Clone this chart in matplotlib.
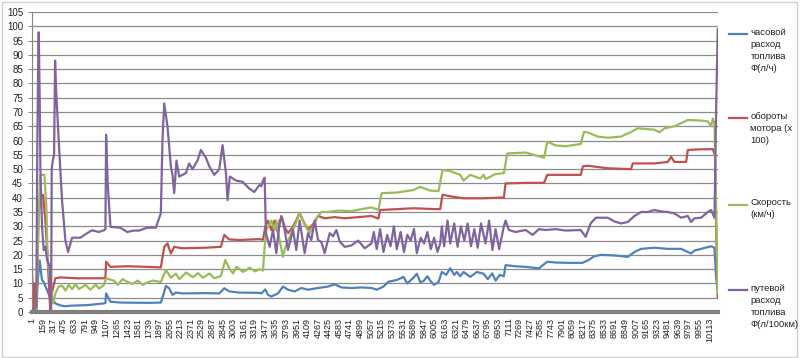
import matplotlib
matplotlib.use("Agg")
import matplotlib.pyplot as plt
from matplotlib.lines import Line2D
from matplotlib.patches import Rectangle

plt.rcParams["font.family"] = ["Liberation Sans", "DejaVu Sans"]

# sample index (row number) and value
n_rows = 10235

blue_x = [1, 65, 90, 116, 135, 150, 175, 200, 225, 265, 300, 349, 424, 499, 573, 823, 1072, 1096, 1106,
          1171, 1320, 1719, 1923, 1973, 1998, 2047, 2097, 2147, 2246, 2595, 2794, 2869, 2943, 3093, 3392,
          3422, 3481, 3521, 3571, 3671, 3745, 3820, 3919, 4019, 4119, 4268, 4417, 4517, 4617, 4766, 4915,
          5065, 5144, 5244, 5319, 5443, 5543, 5600, 5692, 5742, 5792, 5842, 5900, 5941, 6000, 6066, 6115,
          6180, 6240, 6300, 6339, 6389, 6439, 6539, 6638, 6738, 6800, 6867, 6917, 6980, 7041, 7066, 7216,
          7365, 7564, 7689, 7813, 8012, 8212, 8291, 8391, 8490, 8690, 8889, 8989, 9088, 9287, 9486, 9685,
          9785, 9834, 9884, 9984, 10133, 10183, 10207, 10232]
blue_y = [0.5, 1, 12, 18, 14, 11.2, 10.5, 9, 7.7, 5.3, 4.8, 3, 2.3, 2, 2.2, 2.4, 3, 3.2, 6.5,
          3.6, 3.3, 3.2, 3.3, 7, 9.1, 8.3, 6, 6.8, 6.5, 6.6, 6.5, 8.3, 7.2, 6.8, 6.7,
          6.5, 7.9, 6, 5.4, 6.5, 8.9, 7.8, 7.2, 8.4, 7.8, 8.4, 8.9, 9.7, 8.6, 8.4, 8.6,
          8.4, 7.8, 8.9, 10.6, 11.2, 12.3, 10, 12, 13.4, 10.5, 10.8, 12.5, 11, 9.5, 10.5, 14,
          13, 15.3, 13, 14, 12.5, 14, 12.3, 14, 13.4, 11.5, 13.5, 11, 13, 12.5, 16.4, 16,
          15.8, 15.3, 17.6, 17.3, 17.2, 17.2, 18, 19.5, 20, 19.8, 19.3, 21, 22.1, 22.5, 22.1, 22.1,
          21, 20.5, 21.5, 22.1, 23, 22.5, 12, 8]

red_x = [1, 16, 35, 50, 65, 90, 101, 135, 165, 200, 235, 265, 275, 300, 349, 424, 673, 1072, 1096, 1106,
         1171, 1420, 1719, 1923, 1973, 2022, 2072, 2122, 2246, 2595, 2819, 2869, 2943, 3093, 3392, 3447,
         3481, 3521, 3571, 3620, 3671, 3720, 3770, 3820, 3894, 3994, 4044, 4119, 4193, 4268, 4367, 4517,
         4666, 4866, 5065, 5169, 5194, 5443, 5692, 6041, 6091, 6125, 6240, 6439, 6738, 7041, 7066, 7365,
         7639, 7689, 7863, 8187, 8221, 8291, 8590, 8938, 8964, 9287, 9486, 9536, 9586, 9760, 9785, 9934,
         10158, 10190, 10207, 10232]
red_y = [14.7, 0.7, 10, 3, 0.5, 25, 34.6, 40.4, 41, 32, 18, 4.2, 0, 7, 11.8, 12.1, 11.8, 11.8, 12, 17.6,
         15.8, 16, 15.8, 15.6, 22.8, 24, 20.5, 22.8, 22.3, 22.5, 22.8, 27, 25.4, 25.2, 25.5, 25.3,
         29.8, 32, 28.7, 32, 27.6, 33.6, 29.8, 27.6, 29.8, 34.6, 32, 28.7, 30.7, 33.6, 32.8, 33.2,
         32.8, 33.2, 33.6, 32.7, 35.7, 36, 36.3, 36, 36, 41, 40.5, 39.8, 39.8, 40.1, 45, 45.2,
         45.2, 48, 48, 48, 51, 51.2, 50.3, 50, 52, 52, 52.5, 54.3, 52.5, 52.5, 56.7, 56.9,
         57, 55, 30, 5]

green_x = [1, 65, 76, 101, 125, 185, 215, 235, 275, 315, 349, 399, 449, 500, 550, 600, 650, 700, 800,
           870, 950, 1000, 1072, 1106, 1221, 1280, 1350, 1420, 1500, 1580, 1650, 1719, 1800,
           1923, 1998, 2072, 2147, 2200, 2300, 2400, 2480, 2550, 2650, 2720, 2819, 2884, 2943, 3000,
           3050, 3150, 3250, 3330, 3392, 3447, 3471, 3496, 3571, 3620,
           3646, 3695, 3745, 3770, 3870, 3919, 3994, 4068, 4143, 4193, 4268, 4318, 4417, 4567, 4766, 4965,
           5065, 5169, 5219, 5443, 5692, 5792, 5941, 6066, 6125, 6240, 6389, 6439, 6539, 6688, 6738, 6767,
           6917, 7041, 7091, 7365, 7639, 7689, 7813, 7963, 8187, 8236, 8291, 8440, 8590, 8789, 8938, 9038,
           9287, 9362, 9437, 9586, 9785, 9984, 10084, 10133, 10158, 10183, 10232]
green_y = [0, 0.5, 10, 35, 48, 48, 36.8, 18, 10, 3, 6.5, 8.9, 9.2, 7.5, 9.5, 8, 9.8, 8, 9.5,
           7.8, 9.6, 8.2, 9.4, 11.8, 11, 9.5, 11.5, 10.6, 9.8, 11, 9.5, 10.3, 11,
           10.5, 14.7, 12, 13.4, 11.5, 13.8, 12.2, 13.6, 12, 13.5, 11.8, 12.6, 18.2, 15.3, 13.5,
           15.8, 14, 15.5, 14.2, 15, 14.5, 22.8, 28.7, 32, 28.7,
           32, 25, 19.3, 22, 27.6, 30, 34.6, 30.5, 27.6, 29.8, 33.6, 35, 35, 35.5, 35.3, 36.2,
           36.6, 35.8, 41.6, 41.8, 42.7, 43.8, 42.5, 42.3, 49.7, 49.3, 48, 46, 48, 46.7, 48, 46.5,
           48.3, 48.6, 55.5, 55.8, 54, 59.6, 58.3, 58, 58.8, 63, 62.9, 61.4, 61, 61.4, 63, 64.3,
           63.8, 62.9, 64.3, 65, 67.2, 67, 66.7, 65, 67.7, 66, 6.6]

purple_x = [1, 65, 80, 95, 101, 116, 125, 150, 175, 200, 225, 265, 285, 295, 310, 330, 345, 360, 399, 449,
            499, 539, 598, 722, 823, 897, 997, 1072, 1096, 1106, 1130, 1171, 1320, 1420, 1520, 1599, 1719,
            1849, 1923, 1947, 1973, 2022, 2072, 2097, 2122, 2156, 2197, 2296, 2346, 2395, 2470, 2520, 2595,
            2645, 2720, 2794, 2844, 2894, 2918, 2953, 3043, 3142, 3242, 3317, 3392, 3422, 3447, 3471, 3491,
            3546, 3596, 3646, 3695, 3730, 3770, 3820, 3894, 3944, 3994, 4068, 4119, 4168, 4218, 4268, 4318,
            4367, 4442, 4492, 4542, 4591, 4666, 4766, 4866, 4965, 5065, 5100, 5144, 5194, 5244, 5300, 5350,
            5400, 5443, 5500, 5550, 5600, 5650, 5700, 5742, 5800, 5850, 5900, 5950, 6000, 6050, 6091, 6115,
            6150, 6200, 6240, 6300, 6350, 6400, 6450, 6500, 6550, 6600, 6650, 6700, 6767, 6820, 6870, 6917,
            6970, 7041, 7066, 7116, 7216, 7365, 7470, 7564, 7664, 7813, 7963, 8187, 8261, 8336, 8411, 8490,
            8590, 8690, 8789, 8889, 8989, 9088, 9188, 9287, 9387, 9486, 9586, 9685, 9785, 9834, 9884, 9984,
            10084, 10133, 10183, 10207, 10232]
purple_y = [0, 2, 60, 91.7, 97.9, 74, 50.9, 30, 21.7, 22.9, 18.2, 16, 0, 50, 53, 55, 88, 78, 60, 39,
            25, 21, 26, 26, 27.6, 28.6, 28, 28.6, 29, 62, 45, 29.8, 29.5, 28, 28.5, 28.5, 29.5,
            29.5, 34.6, 60, 73, 65, 51, 48, 41.6, 53, 47.4, 48.6, 52, 50, 53, 56.7, 54,
            51, 48, 50, 58.4, 48.6, 39.2, 47.4, 46, 45.6, 43.2, 42, 44.4, 44, 46, 47, 27.6,
            22.8, 28.7, 20.6, 32, 33, 28.7, 21.7, 28.7, 21.7, 32, 20.6, 27.6, 25.2, 32, 25.2, 24.5,
            20.6, 27.6, 26.5, 28.7, 24.7, 22.8, 23.3, 25, 22.3, 24, 28, 22, 29, 21, 27, 23,
            30, 22, 28, 21, 27, 25, 29, 20.6, 26, 24, 28, 22, 26, 21, 24, 30,
            23, 32, 24, 31, 22.8, 30, 25, 31, 23, 29, 22.5, 31, 24, 32, 21.7, 29,
            22, 30, 32, 28.7, 28, 28.7, 27, 29, 28.7, 29, 28.5, 28.7, 26.3, 31, 33, 33,
            33, 31.7, 31, 31.5, 33.6, 35, 35, 35.7, 35.2, 35, 34.5, 33, 33.6, 31.5, 32.8, 33,
            35, 35.7, 33, 70, 99]

series_names = ["часовой\nрасход\nтоплива\nФ(л/ч)", "обороты\nмотора (х\n100)",
                "Скорость\n(км/ч)", "путевой\nрасход\nтоплива\nФ(л/100км)"]
colors = ["#4F81BD", "#C0504D", "#9BBB59", "#8064A2"]

tick_pos = list(range(1, n_rows, 158))

fig = plt.figure(figsize=(8, 3.58), dpi=100)
ax = fig.add_axes([0.04, 0.1285, 0.8575, 0.838])

data = [(blue_x, blue_y), (red_x, red_y), (green_x, green_y), (purple_x, purple_y)]
for (xs, ys), c in zip(data, colors):
    ax.plot(xs, ys, color=c, lw=1.6, solid_joinstyle="round")

ax.set_xlim(0.5, n_rows + 0.5)
ax.set_ylim(0, 105)
ax.set_yticks(range(0, 106, 5))
ax.set_xticks(tick_pos)
ax.set_xticklabels([str(t) for t in tick_pos], rotation=90, fontsize=6.5, color="#222222")
ax.tick_params(axis="y", labelsize=7, colors="#222222", length=3, color="#868686")
ax.tick_params(axis="x", length=0, pad=4)
ax.grid(axis="y", color="#8c8c8c", lw=0.9)
ax.set_axisbelow(True)
for s in ["top", "right"]:
    ax.spines[s].set_visible(False)
ax.spines["left"].set_color("#868686")
ax.spines["bottom"].set_color("#7f7f7f")
ax.spines["bottom"].set_linewidth(3)

# legend drawn at the right side
legend_y = [0.905, 0.67, 0.428, 0.19]
for name, c, ly in zip(series_names, colors, legend_y):
    fig.add_artist(Line2D([0.911, 0.934], [ly, ly], color=c, lw=1.6))
    fig.text(0.938, ly + 0.018, name, fontsize=6.8, color="#222222", va="top", ha="left",
             linespacing=1.45)

fig.add_artist(Rectangle((0.002, 0.004), 0.994, 0.99, transform=fig.transFigure,
                         fill=False, edgecolor="#d0d0d0", lw=1))

fig.savefig("out.png", dpi=100)
